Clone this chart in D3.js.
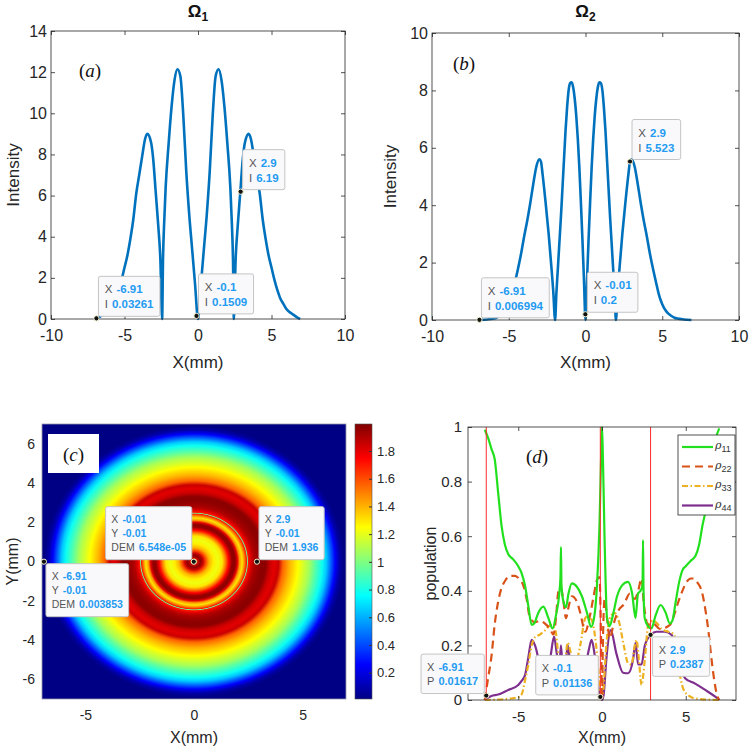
<!DOCTYPE html>
<html>
<head>
<meta charset="utf-8">
<script src="https://cdn.jsdelivr.net/npm/d3@7"></script>
<style>
  body { margin: 0; background: #fff; }
  svg { display: block; font-family: "Liberation Sans", Arial, sans-serif; }
</style>
</head>
<body>
<div id="chart"></div>
<script>
// Panel (a): intensity for Omega_1
const xA = [-6.95, -6.8, -6.6, -6.4, -6.2, -6.0, -5.8, -5.6, -5.4, -5.2, -5.0, -4.8, -4.6, -4.4, -4.2, -4.0, -3.8, -3.6, -3.45, -3.2, -3.05, -2.88, -2.7, -2.56, -2.44, -2.38, -2.3, -2.2, -2.0, -1.8, -1.6, -1.4, -1.2, -1.0, -0.8, -0.6, -0.4, -0.2, 0,
  0.2, 0.4, 0.6, 0.8, 1.0, 1.2, 1.4, 1.6, 1.8, 2.0, 2.2, 2.3, 2.38, 2.44, 2.56, 2.7, 2.88, 3.05, 3.2, 3.45, 3.6, 3.8, 4.0, 4.2, 4.4, 4.6, 4.8, 5.0, 5.2, 5.4, 5.6, 5.8, 6.0, 6.2, 6.4, 6.6, 6.8, 6.95];
const intensityA = [0, 0.05, 0.15, 0.25, 0.35, 0.5, 0.75, 1.0, 1.4, 1.9, 2.5, 3.1, 3.9, 4.85, 6.1, 7.0, 7.9, 8.75, 9.0, 8.6, 7.8, 6.2, 4.5, 2.9, 0, 2.9, 4.7, 6.4, 8.5, 10.3, 11.6, 12.14, 11.8, 9.9, 7.2, 5.1, 3.4, 1.7, 0,
  1.7, 3.4, 5.1, 7.2, 9.9, 11.8, 12.14, 11.6, 10.3, 8.5, 6.4, 4.7, 2.9, 0, 2.9, 4.5, 6.2, 7.8, 8.6, 9.0, 8.75, 7.9, 7.0, 6.1, 4.85, 3.9, 3.1, 2.5, 1.9, 1.4, 1.0, 0.75, 0.5, 0.35, 0.25, 0.15, 0.05, 0];

// Panel (b): intensity for Omega_2
const xB = [-6.9, -6.4, -6.0, -5.8, -5.6, -5.4, -5.2, -5.0, -4.8, -4.6, -4.4, -4.2, -4.0, -3.8, -3.6, -3.4, -3.2, -3.0, -2.9, -2.8, -2.6, -2.4, -2.2, -2.1, -1.98, -1.9, -1.8, -1.7, -1.6, -1.5, -1.4, -1.3, -1.2, -1.1, -1.0, -0.9, -0.8, -0.7, -0.6, -0.5, -0.4, -0.3, -0.2, -0.1, 0,
  0.1, 0.2, 0.3, 0.4, 0.5, 0.6, 0.7, 0.8, 0.9, 1.0, 1.1, 1.2, 1.3, 1.4, 1.5, 1.6, 1.7, 1.8, 1.9, 1.98, 2.1, 2.2, 2.4, 2.6, 2.8, 2.9, 3.0, 3.2, 3.4, 3.6, 3.8, 4.0, 4.2, 4.4, 4.6, 4.8, 5.0, 5.2, 5.4, 5.6, 5.8, 6.0, 6.4, 6.9];
const intensityB = [0, 0.02, 0.05, 0.08, 0.14, 0.22, 0.35, 0.55, 0.85, 1.3, 1.78, 2.3, 2.9, 3.45, 4.07, 4.75, 5.35, 5.6, 5.52, 5.1, 4.1, 3.0, 1.7, 1.0, 0, 0.9, 1.8, 2.7, 3.6, 4.6, 5.6, 6.6, 7.4, 8.0, 8.25, 8.28, 8.1, 7.7, 7.1, 6.3, 5.3, 4.1, 2.8, 1.4, 0,
  1.4, 2.8, 4.1, 5.3, 6.3, 7.1, 7.7, 8.1, 8.28, 8.25, 8.0, 7.4, 6.6, 5.6, 4.6, 3.6, 2.7, 1.8, 0.9, 0, 1.0, 1.7, 3.0, 4.1, 5.1, 5.52, 5.6, 5.35, 4.75, 4.07, 3.45, 2.9, 2.3, 1.78, 1.3, 0.85, 0.55, 0.35, 0.22, 0.14, 0.08, 0.05, 0.02, 0];

// Panel (c): radial DEM profile (radius in mm)
const radiusC = [0, 0.08, 0.18, 0.3, 0.42, 0.55, 0.7, 0.9, 1.1, 1.3, 1.45, 1.6, 1.75, 1.88, 2.0, 2.1, 2.22, 2.33, 2.42, 2.46, 2.5, 2.6, 2.75, 2.9, 3.1, 3.3, 3.5, 3.7, 3.9, 4.1, 4.4, 4.8, 5.0, 5.3, 5.6, 5.9, 6.1, 6.3, 6.5, 6.7, 6.9, 7.0];
const demC = [0.0, 1.3, 1.85, 1.97, 1.85, 1.6, 1.4, 1.28, 1.22, 1.3, 1.5, 1.75, 1.95, 1.97, 1.8, 1.45, 1.3, 1.5, 1.7, 0.95, 1.7, 1.8, 1.9, 1.936, 1.97, 1.97, 1.85, 1.8, 1.85, 1.55, 1.4, 1.25, 1.18, 1.08, 0.92, 0.78, 0.65, 0.45, 0.25, 0.08, 0.005, 0.0];
const colorbarTicks = [0.2, 0.4, 0.6, 0.8, 1, 1.2, 1.4, 1.6, 1.8];

// Panel (d): populations
const xRho11 = [-7.0, -6.8, -6.6, -6.4, -6.2, -6.0, -5.8, -5.6, -5.3, -5.0, -4.8, -4.6, -4.4, -4.2, -4.05, -3.8, -3.5, -3.2, -2.95, -2.75, -2.55, -2.48, -2.45, -2.42, -2.3, -2.15, -2.0, -1.8, -1.5, -1.2, -0.9, -0.65, -0.45, -0.3, -0.15, -0.05, 0.0,
  0.05, 0.15, 0.3, 0.45, 0.65, 0.9, 1.2, 1.55, 1.8, 2.0, 2.15, 2.3, 2.42, 2.45, 2.48, 2.55, 2.75, 2.95, 3.2, 3.5, 3.8, 4.05, 4.2, 4.4, 4.6, 4.8, 5.0, 5.3, 5.6, 5.8, 6.0, 6.2, 6.4, 6.6, 6.8, 7.0];
const rho11 = [0.99, 0.96, 0.92, 0.88, 0.76, 0.64, 0.57, 0.535, 0.515, 0.49, 0.465, 0.42, 0.345, 0.275, 0.28, 0.32, 0.342, 0.3, 0.262, 0.31, 0.39, 0.45, 0.56, 0.42, 0.36, 0.34, 0.39, 0.427, 0.415, 0.38, 0.32, 0.268, 0.31, 0.42, 0.64, 0.9, 1.0,
  0.9, 0.6, 0.3, 0.27, 0.31, 0.38, 0.42, 0.433, 0.39, 0.3, 0.39, 0.4, 0.42, 0.586, 0.4, 0.3, 0.27, 0.262, 0.31, 0.348, 0.32, 0.28, 0.29, 0.36, 0.43, 0.475, 0.49, 0.51, 0.53, 0.57, 0.64, 0.7, 0.82, 0.9, 0.96, 0.995];
const xRho22 = [-7.0, -6.8, -6.6, -6.4, -6.2, -6.0, -5.8, -5.5, -5.2, -4.9, -4.7, -4.5, -4.3, -4.0, -3.7, -3.4, -3.1, -2.9, -2.75, -2.6, -2.45, -2.3, -2.15, -2.0, -1.8, -1.5, -1.3, -1.0, -0.75, -0.5, -0.3, -0.15, -0.05, 0.0,
  0.05, 0.16, 0.3, 0.46, 0.7, 1.0, 1.3, 1.66, 1.96, 2.16, 2.36, 2.5, 2.76, 3.06, 3.46, 4.06, 4.3, 4.56, 4.8, 5.06, 5.3, 5.46, 5.7, 5.96, 6.2, 6.36, 6.5, 6.66, 6.86, 7.0];
const rho22 = [0.0, 0.08, 0.16, 0.28, 0.36, 0.41, 0.435, 0.455, 0.455, 0.44, 0.42, 0.37, 0.3, 0.285, 0.29, 0.28, 0.26, 0.24, 0.3, 0.4, 0.41, 0.36, 0.3, 0.34, 0.38, 0.36, 0.32, 0.25, 0.3, 0.38, 0.44, 0.45, 0.2, 0.0,
  0.2, 0.37, 0.3, 0.226, 0.28, 0.33, 0.35, 0.39, 0.37, 0.4, 0.445, 0.35, 0.275, 0.28, 0.26, 0.275, 0.31, 0.36, 0.4, 0.433, 0.445, 0.445, 0.43, 0.397, 0.32, 0.25, 0.17, 0.09, 0.02, 0.0];
const xRho33 = [-7.0, -5.5, -5.0, -4.8, -4.6, -4.4, -4.2, -4.0, -3.7, -3.4, -3.05, -2.8, -2.6, -2.4, -2.25, -2.05, -1.85, -1.6, -1.3, -1.0, -0.8, -0.55, -0.35, -0.2, -0.1, 0.0,
  0.1, 0.2, 0.35, 0.55, 0.76, 1.0, 1.3, 1.56, 1.76, 1.96, 2.06, 2.2, 2.36, 2.56, 2.76, 3.06, 3.3, 3.56, 3.96, 4.2, 4.36, 4.56, 4.86, 5.2, 5.6, 7.0];
const rho33 = [0, 0.005, 0.01, 0.02, 0.07, 0.13, 0.2, 0.23, 0.24, 0.255, 0.275, 0.26, 0.16, 0.06, 0.1, 0.21, 0.17, 0.13, 0.2, 0.3, 0.31, 0.28, 0.2, 0.1, 0.03, 0.01,
  0.05, 0.15, 0.26, 0.31, 0.318, 0.29, 0.2, 0.134, 0.13, 0.2, 0.22, 0.15, 0.055, 0.15, 0.275, 0.29, 0.28, 0.26, 0.25, 0.245, 0.23, 0.128, 0.04, 0.015, 0.005, 0];
const xRho44 = [-7.0, -6.9, -6.6, -6.2, -5.6, -5.0, -4.8, -4.6, -4.4, -4.2, -4.0, -3.7, -3.4, -3.1, -2.86, -2.7, -2.55, -2.45, -2.35, -2.2, -2.05, -1.9, -1.6, -1.3, -1.0, -0.8, -0.62, -0.45, -0.25, -0.1, 0.0,
  0.1, 0.26, 0.52, 0.86, 1.26, 1.56, 1.86, 2.0, 2.16, 2.36, 2.56, 2.9, 3.26, 3.76, 4.16, 4.56, 4.96, 5.56, 6.16, 6.76, 7.0];
const rho44 = [0.0, 0.005, 0.015, 0.02, 0.037, 0.055, 0.07, 0.09, 0.155, 0.22, 0.2, 0.13, 0.1, 0.15, 0.232, 0.17, 0.12, 0.2, 0.12, 0.11, 0.2, 0.14, 0.1, 0.09, 0.12, 0.18, 0.22, 0.17, 0.06, 0.011, 0.0,
  0.02, 0.15, 0.256, 0.17, 0.1, 0.098, 0.15, 0.208, 0.13, 0.13, 0.2, 0.2387, 0.25, 0.25, 0.238, 0.153, 0.08, 0.06, 0.037, 0.012, 0.0];
const redLinesD = [-6.91, -0.1, 2.9];
const legendNames = ["11", "22", "33", "44"];

// Data tips: x text, second label, value text, box side
const tipsA = [["-6.91", "I", "0.03261", "ur"], ["-0.1", "I", "0.1509", "ur"], ["2.9", "I", "6.19", "ur"]];
const tipsB = [["-6.91", "I", "0.006994", "ur"], ["-0.01", "I", "0.2", "ur"], ["2.9", "I", "5.523", "ur"]];
const tipsC = [["-0.01", "-0.01", "6.548e-05", "ul"], ["2.9", "-0.01", "1.936", "ur"], ["-6.91", "-0.01", "0.003853", "lr"]];
const tipsD = [["-6.91", "P", "0.01617", "ul"], ["-0.1", "P", "0.01136", "ul"], ["2.9", "P", "0.2387", "lr"]];

const ink = "#262626";
const tipBlue = "#1f9bf2";
const lineBlue = "#0072BD";

const svg = d3.select("#chart").append("svg").attr("width", 749).attr("height", 749);

function drawAxes(g, x, y, xTicks, yTicks, o) {
  const [x0, x1] = x.range();
  const [y0, y1] = y.range();
  const fmt = (d) => String(d);
  const inner = o.inner ? -4 : 0;

  g.append("g").attr("transform", `translate(0,${y0})`)
    .call(d3.axisBottom(x).tickValues(xTicks).tickSizeInner(inner).tickSizeOuter(0).tickPadding(o.padX).tickFormat(fmt));
  g.append("g").attr("transform", `translate(${x0},0)`)
    .call(d3.axisLeft(y).tickValues(yTicks).tickSizeInner(inner).tickSizeOuter(0).tickPadding(o.padY).tickFormat(fmt));
  if (o.inner) {
    g.append("g").attr("transform", `translate(0,${y1})`)
      .call(d3.axisTop(x).tickValues(xTicks).tickSizeInner(inner).tickSizeOuter(0).tickFormat(() => ""));
    g.append("g").attr("transform", `translate(${x1},0)`)
      .call(d3.axisRight(y).tickValues(yTicks).tickSizeInner(inner).tickSizeOuter(0).tickFormat(() => ""));
  }
  g.selectAll(".domain").remove();
  g.selectAll(".tick line").attr("stroke", ink).attr("stroke-width", 0.8);
  g.selectAll(".tick text")
    .attr("font-size", o.fontSize)
    .attr("font-family", "Liberation Sans, Arial, sans-serif")
    .attr("fill", ink);

  g.append("rect")
    .attr("x", x0).attr("y", y1)
    .attr("width", x1 - x0).attr("height", y0 - y1)
    .attr("fill", "none")
    .attr("stroke", o.boxColor || ink)
    .attr("stroke-width", 0.8);
}

function axisLabels(g, x, y, xText, yText, o) {
  const [x0, x1] = x.range();
  const [y0, y1] = y.range();
  g.append("text")
    .attr("x", (x0 + x1) / 2).attr("y", o.xLabelY)
    .attr("text-anchor", "middle").attr("font-size", o.labelSize).attr("fill", ink)
    .text(xText);
  g.append("text")
    .attr("transform", `translate(${o.yLabelX},${(y0 + y1) / 2}) rotate(-90)`)
    .attr("text-anchor", "middle").attr("dy", "0.35em").attr("font-size", o.labelSize).attr("fill", ink)
    .text(yText);
}

function panelTag(g, cx, cy, letter) {
  const t = g.append("text")
    .attr("x", cx).attr("y", cy)
    .attr("text-anchor", "middle").attr("dy", "0.35em")
    .attr("font-family", "Liberation Serif, DejaVu Serif, serif")
    .attr("font-size", 19).attr("fill", "#111");
  t.append("tspan").text("(");
  t.append("tspan").attr("font-style", "italic").text(letter);
  t.append("tspan").text(")");
}

function title(g, cx, baseline, sub) {
  const t = g.append("text")
    .attr("x", cx).attr("y", baseline)
    .attr("text-anchor", "middle")
    .attr("font-weight", "bold").attr("font-size", 17).attr("fill", "#111");
  t.append("tspan").text("Ω");
  t.append("tspan").attr("font-size", 12).attr("dy", 4).text(sub);
}

// MATLAB-like data tip: marker plus box with rows [label, value]
function dataTip(g, px, py, rows, side, fontSize) {
  const tip = g.append("g");
  const lineH = fontSize + 3.5;
  const pad = fontSize * 0.55;
  const h = 13 + (rows.length - 1) * lineH + 12;

  const box = tip.append("rect").attr("rx", 2)
    .attr("fill", "#f9f9fb").attr("stroke", "#c4c4c4").attr("stroke-width", 1);

  let maxW = 0;
  const texts = rows.map(([lab, val]) => {
    const t = tip.append("text")
      .attr("font-size", fontSize).attr("dy", "0.35em");
    t.append("tspan").attr("fill", "#555").text(lab);
    t.append("tspan").attr("fill", tipBlue).attr("font-weight", "bold").attr("dx", 4).text(val);
    maxW = Math.max(maxW, t.node().getComputedTextLength() + 4);
    return t;
  });
  const w = maxW + 2 * pad;

  let bx = px + 2, by = py - 2 - h;
  if (side === "ul") { bx = px - 2 - w; }
  if (side === "lr") { by = py + 2; }

  box.attr("x", bx).attr("y", by).attr("width", w).attr("height", h);
  texts.forEach((t, i) => t.attr("x", bx + pad).attr("y", by + 13 + i * lineH));

  g.append("circle")
    .attr("cx", px).attr("cy", py).attr("r", 2.6)
    .attr("fill", "#111").attr("stroke", "#f4f1d0").attr("stroke-width", 1);
}

// ---------- Panel (a) and (b): intensity profiles ----------
function intensityPanel(xs, vals, xRange, yDomain, yRange, yTicks, tips, sub, tag, tagPos, yLabelX) {
  const g = svg.append("g");
  const x = d3.scaleLinear().domain([-10, 10]).range(xRange);
  const y = d3.scaleLinear().domain(yDomain).range(yRange);

  const line = d3.line()
    .x((d) => x(d[0]))
    .y((d) => y(d[1]))
    .curve(d3.curveMonotoneX);

  g.append("path")
    .datum(xs.map((v, i) => [v, vals[i]]))
    .attr("fill", "none")
    .attr("stroke", lineBlue)
    .attr("stroke-width", 2.6)
    .attr("d", line);

  drawAxes(g, x, y, [-10, -5, 0, 5, 10], yTicks, { inner: true, padX: 11, padY: 4, fontSize: 16 });
  axisLabels(g, x, y, "X(mm)", "Intensity", { xLabelY: 368, yLabelX: yLabelX, labelSize: 17 });
  title(g, (xRange[0] + xRange[1]) / 2, 17, sub);
  panelTag(g, tagPos[0], tagPos[1], tag);

  tips.forEach(([xs0, lab, val, side]) => {
    dataTip(g, x(+xs0), y(+val), [["X", xs0], [lab, val]], side, 11.5);
  });
}

intensityPanel(xA, intensityA, [51, 345], [0, 14], [319, 31], d3.range(0, 15, 2), tipsA, "1", "a", [90, 70], 13);
intensityPanel(xB, intensityB, [432, 739], [0, 10], [320, 33], d3.range(0, 11, 2), tipsB, "2", "b", [464, 63], 390);

// ---------- Panel (c): DEM map ----------
{
  const g = svg.append("g");
  const x = d3.scaleLinear().domain([-7, 7]).range([42, 346]);
  const y = d3.scaleLinear().domain([-7, 7]).range([699, 424]);

  // MATLAB jet colormap
  const jetStops = [0, 0.125, 0.375, 0.625, 0.875, 1];
  const jetColors = ["#000084", "#0000ff", "#00ffff", "#ffff00", "#ff0000", "#800000"];
  const cDomain = [0.01, 1.995];
  const color = d3.scaleLinear()
    .domain(jetStops.map((s) => cDomain[0] + s * (cDomain[1] - cDomain[0])))
    .range(jetColors)
    .clamp(true);

  const defs = svg.append("defs");
  const radial = defs.append("radialGradient").attr("id", "dem-grad")
    .attr("cx", "50%").attr("cy", "50%").attr("r", "50%");
  radial.selectAll("stop")
    .data(radiusC)
    .join("stop")
    .attr("offset", (d) => d / 7)
    .attr("stop-color", (d, i) => color(demC[i]));

  g.append("rect")
    .attr("x", x(-7)).attr("y", y(7))
    .attr("width", x(7) - x(-7)).attr("height", y(-7) - y(7))
    .attr("fill", color(0));

  g.append("ellipse")
    .attr("cx", x(0)).attr("cy", y(0))
    .attr("rx", x(7) - x(0)).attr("ry", y(0) - y(7))
    .attr("fill", "url(#dem-grad)");

  drawAxes(g, x, y, [-5, 0, 5], [-6, -4, -2, 0, 2, 4, 6], { inner: false, padX: 11, padY: 7, fontSize: 14, boxColor: "#9a9ab0" });
  axisLabels(g, x, y, "X(mm)", "Y(mm)", { xLabelY: 743, yLabelX: 12, labelSize: 16 });

  // tag box
  g.append("rect").attr("x", 48).attr("y", 434).attr("width", 51).attr("height", 39).attr("fill", "#fff");
  panelTag(g, 73.5, 454, "c");

  tipsC.forEach(([xs0, ys0, val, side]) => {
    dataTip(g, x(+xs0), y(+ys0), [["X", xs0], ["Y", ys0], ["DEM", val]], side, 10.5);
  });

  // colorbar
  const cb = d3.scaleLinear().domain(cDomain).range([699, 424]);
  const lin = defs.append("linearGradient").attr("id", "jet-bar")
    .attr("x1", 0).attr("y1", 1).attr("x2", 0).attr("y2", 0);
  lin.selectAll("stop")
    .data(jetStops)
    .join("stop")
    .attr("offset", (d) => d)
    .attr("stop-color", (d, i) => jetColors[i]);
  g.append("rect")
    .attr("x", 355).attr("y", 424).attr("width", 17).attr("height", 275)
    .attr("fill", "url(#jet-bar)")
    .attr("stroke", "#555").attr("stroke-width", 0.6);
  const cbAxis = g.append("g").attr("transform", "translate(372,0)")
    .call(d3.axisRight(cb).tickValues(colorbarTicks).tickSizeInner(-3).tickSizeOuter(0).tickPadding(5).tickFormat((d) => String(d)));
  cbAxis.select(".domain").remove();
  cbAxis.selectAll(".tick line").attr("stroke", "#333");
  cbAxis.selectAll(".tick text").attr("font-size", 13).attr("fill", ink).attr("font-family", "Liberation Sans, Arial, sans-serif");
}

// ---------- Panel (d): populations ----------
{
  const g = svg.append("g");
  const x = d3.scaleLinear().domain([-8, 8]).range([468, 736]);
  const y = d3.scaleLinear().domain([0, 1]).range([700, 427]);

  const series = [
    { xs: xRho11, ys: rho11, color: "#22e01e", dash: null },
    { xs: xRho22, ys: rho22, color: "#D95319", dash: "8,5" },
    { xs: xRho33, ys: rho33, color: "#EDB120", dash: "6,2.5,1.5,2.5" },
    { xs: xRho44, ys: rho44, color: "#7E2F8E", dash: null },
  ];

  const line = d3.line()
    .x((d) => x(d[0]))
    .y((d) => y(d[1]))
    .curve(d3.curveMonotoneX);

  g.selectAll(".pop")
    .data(series.slice().reverse())
    .join("path")
    .attr("class", "pop")
    .attr("fill", "none")
    .attr("stroke", (d) => d.color)
    .attr("stroke-width", 2.2)
    .attr("stroke-dasharray", (d) => d.dash)
    .attr("d", (d) => line(d.xs.map((v, i) => [v, d.ys[i]])));

  g.selectAll(".red-line")
    .data(redLinesD)
    .join("line")
    .attr("class", "red-line")
    .attr("x1", (d) => x(d)).attr("x2", (d) => x(d))
    .attr("y1", y(0)).attr("y2", y(1))
    .attr("stroke", "#ff2a2a").attr("stroke-width", 1);

  drawAxes(g, x, y, [-5, 0, 5], [0, 0.2, 0.4, 0.6, 0.8, 1], { inner: true, padX: 11, padY: 6, fontSize: 15 });
  axisLabels(g, x, y, "X(mm)", "population", { xLabelY: 743, yLabelX: 430, labelSize: 16 });
  panelTag(g, 537, 456, "d");

  // legend
  const lg = g.append("g").attr("transform", "translate(678,435)");
  lg.append("rect").attr("width", 57).attr("height", 80).attr("fill", "#fff").attr("stroke", ink).attr("stroke-width", 0.8);
  series.forEach((s, i) => {
    const yy = 12 + i * 19.5;
    lg.append("line")
      .attr("x1", 4).attr("x2", 35).attr("y1", yy).attr("y2", yy)
      .attr("stroke", s.color).attr("stroke-width", 2.2)
      .attr("stroke-dasharray", s.dash);
    const t = lg.append("text").attr("x", 37).attr("y", yy + 2).attr("font-size", 11).attr("fill", "#333");
    t.append("tspan").attr("font-style", "italic").attr("font-family", "DejaVu Serif, serif").text("ρ");
    t.append("tspan").attr("font-size", 9).attr("dy", 3).text(legendNames[i]);
  });

  tipsD.forEach(([xs0, lab, val, side]) => {
    dataTip(g, x(+xs0), y(+val), [["X", xs0], [lab, val]], side, 11);
  });
}
</script>
</body>
</html>
